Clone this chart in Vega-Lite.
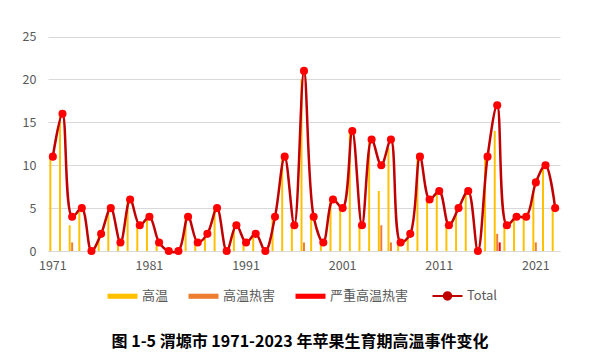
{
  "$schema": "https://vega.github.io/schema/vega-lite/v6.json",
  "autosize": "none",
  "width": 512,
  "height": 223,
  "padding": {"left": 48, "top": 28, "right": 40, "bottom": 105},
  "background": "white",
  "config": {
    "view": {"stroke": null},
    "font": "Noto Sans CJK SC",
    "axis": {"labelFont": "Noto Sans CJK SC", "labelColor": "#595959", "labelFontSize": 12.5, "title": null}
  },
  "title": {
    "text": "图 1-5 渭塬市 1971-2023 年苹果生育期高温事件变化",
    "orient": "bottom",
    "anchor": "middle",
    "frame": "group",
    "offset": 30,
    "dx": -4,
    "font": "Noto Sans CJK SC",
    "fontSize": 16,
    "fontWeight": "bold",
    "color": "#000000"
  },
  "data": {
    "values": [
      {"year": 1971, "高温": 11, "高温热害": 0, "严重高温热害": 0, "Total": 11},
      {"year": 1972, "高温": 16, "高温热害": 0, "严重高温热害": 0, "Total": 16},
      {"year": 1973, "高温": 3, "高温热害": 1, "严重高温热害": 0, "Total": 4},
      {"year": 1974, "高温": 5, "高温热害": 0, "严重高温热害": 0, "Total": 5},
      {"year": 1975, "高温": 0, "高温热害": 0, "严重高温热害": 0, "Total": 0},
      {"year": 1976, "高温": 2, "高温热害": 0, "严重高温热害": 0, "Total": 2},
      {"year": 1977, "高温": 5, "高温热害": 0, "严重高温热害": 0, "Total": 5},
      {"year": 1978, "高温": 1, "高温热害": 0, "严重高温热害": 0, "Total": 1},
      {"year": 1979, "高温": 6, "高温热害": 0, "严重高温热害": 0, "Total": 6},
      {"year": 1980, "高温": 3, "高温热害": 0, "严重高温热害": 0, "Total": 3},
      {"year": 1981, "高温": 4, "高温热害": 0, "严重高温热害": 0, "Total": 4},
      {"year": 1982, "高温": 1, "高温热害": 0, "严重高温热害": 0, "Total": 1},
      {"year": 1983, "高温": 0, "高温热害": 0, "严重高温热害": 0, "Total": 0},
      {"year": 1984, "高温": 0, "高温热害": 0, "严重高温热害": 0, "Total": 0},
      {"year": 1985, "高温": 4, "高温热害": 0, "严重高温热害": 0, "Total": 4},
      {"year": 1986, "高温": 1, "高温热害": 0, "严重高温热害": 0, "Total": 1},
      {"year": 1987, "高温": 2, "高温热害": 0, "严重高温热害": 0, "Total": 2},
      {"year": 1988, "高温": 5, "高温热害": 0, "严重高温热害": 0, "Total": 5},
      {"year": 1989, "高温": 0, "高温热害": 0, "严重高温热害": 0, "Total": 0},
      {"year": 1990, "高温": 3, "高温热害": 0, "严重高温热害": 0, "Total": 3},
      {"year": 1991, "高温": 1, "高温热害": 0, "严重高温热害": 0, "Total": 1},
      {"year": 1992, "高温": 2, "高温热害": 0, "严重高温热害": 0, "Total": 2},
      {"year": 1993, "高温": 0, "高温热害": 0, "严重高温热害": 0, "Total": 0},
      {"year": 1994, "高温": 4, "高温热害": 0, "严重高温热害": 0, "Total": 4},
      {"year": 1995, "高温": 11, "高温热害": 0, "严重高温热害": 0, "Total": 11},
      {"year": 1996, "高温": 3, "高温热害": 0, "严重高温热害": 0, "Total": 3},
      {"year": 1997, "高温": 20, "高温热害": 1, "严重高温热害": 0, "Total": 21},
      {"year": 1998, "高温": 4, "高温热害": 0, "严重高温热害": 0, "Total": 4},
      {"year": 1999, "高温": 1, "高温热害": 0, "严重高温热害": 0, "Total": 1},
      {"year": 2000, "高温": 6, "高温热害": 0, "严重高温热害": 0, "Total": 6},
      {"year": 2001, "高温": 5, "高温热害": 0, "严重高温热害": 0, "Total": 5},
      {"year": 2002, "高温": 14, "高温热害": 0, "严重高温热害": 0, "Total": 14},
      {"year": 2003, "高温": 3, "高温热害": 0, "严重高温热害": 0, "Total": 3},
      {"year": 2004, "高温": 13, "高温热害": 0, "严重高温热害": 0, "Total": 13},
      {"year": 2005, "高温": 7, "高温热害": 3, "严重高温热害": 0, "Total": 10},
      {"year": 2006, "高温": 12, "高温热害": 1, "严重高温热害": 0, "Total": 13},
      {"year": 2007, "高温": 1, "高温热害": 0, "严重高温热害": 0, "Total": 1},
      {"year": 2008, "高温": 2, "高温热害": 0, "严重高温热害": 0, "Total": 2},
      {"year": 2009, "高温": 11, "高温热害": 0, "严重高温热害": 0, "Total": 11},
      {"year": 2010, "高温": 6, "高温热害": 0, "严重高温热害": 0, "Total": 6},
      {"year": 2011, "高温": 7, "高温热害": 0, "严重高温热害": 0, "Total": 7},
      {"year": 2012, "高温": 3, "高温热害": 0, "严重高温热害": 0, "Total": 3},
      {"year": 2013, "高温": 5, "高温热害": 0, "严重高温热害": 0, "Total": 5},
      {"year": 2014, "高温": 7, "高温热害": 0, "严重高温热害": 0, "Total": 7},
      {"year": 2015, "高温": 0, "高温热害": 0, "严重高温热害": 0, "Total": 0},
      {"year": 2016, "高温": 11, "高温热害": 0, "严重高温热害": 0, "Total": 11},
      {"year": 2017, "高温": 14, "高温热害": 2, "严重高温热害": 1, "Total": 17},
      {"year": 2018, "高温": 3, "高温热害": 0, "严重高温热害": 0, "Total": 3},
      {"year": 2019, "高温": 4, "高温热害": 0, "严重高温热害": 0, "Total": 4},
      {"year": 2020, "高温": 4, "高温热害": 0, "严重高温热害": 0, "Total": 4},
      {"year": 2021, "高温": 7, "高温热害": 1, "严重高温热害": 0, "Total": 8},
      {"year": 2022, "高温": 10, "高温热害": 0, "严重高温热害": 0, "Total": 10},
      {"year": 2023, "高温": 5, "高温热害": 0, "严重高温热害": 0, "Total": 5}
    ]
  },
  "encoding": {
    "x": {
      "field": "year",
      "type": "ordinal",
      "scale": {"paddingInner": 0.28, "paddingOuter": 0.14},
      "axis": {
        "values": [1971, 1981, 1991, 2001, 2011, 2021],
        "labelAngle": 0,
        "ticks": false,
        "domainColor": "#D9D9D9",
        "labelPadding": 8,
        "grid": false
      }
    }
  },
  "layer": [
    {
      "transform": [{"fold": ["高温", "高温热害", "严重高温热害"], "as": ["series", "value"]}],
      "mark": {"type": "bar"},
      "encoding": {
        "y": {
          "field": "value",
          "type": "quantitative",
          "scale": {"domain": [0, 25]},
          "axis": {
            "values": [0, 5, 10, 15, 20, 25],
            "grid": true,
            "gridColor": "#D9D9D9",
            "domain": false,
            "ticks": false,
            "labelPadding": 12
          }
        },
        "xOffset": {
          "field": "series",
          "type": "nominal",
          "sort": ["高温", "高温热害", "严重高温热害"],
          "scale": {"paddingInner": 0.2}
        },
        "color": {
          "field": "series",
          "type": "nominal",
          "scale": {
            "domain": ["高温", "高温热害", "严重高温热害", "Total"],
            "range": ["#FFC000", "#ED7D31", "#FF0000", "#C00000"]
          },
          "legend": {
            "orient": "none",
            "direction": "horizontal",
            "legendX": 68,
            "legendY": 261,
            "title": null,
            "symbolType": "M-1,-0.17H1V0.17H-1Z",
            "symbolSize": 900,
            "labelFont": "Noto Sans CJK SC",
            "labelFontSize": 13,
            "labelColor": "#595959",
            "labelOffset": 13,
            "columnPadding": 19,
            "encode": {
              "symbols": {
                "update": {
                  "shape": {"signal": "datum.value === 'Total' ? 'M-1,0H1M-0.25,0A0.25,0.25 0 1,0 0.25,0A0.25,0.25 0 1,0 -0.25,0Z' : 'M-1,-0.17H1V0.17H-1Z'"},
                  "fill": {"signal": "datum.value === 'Total' ? '#FF0000' : scale('color', datum.value)"},
                  "stroke": {"signal": "datum.value === 'Total' ? '#C00000' : scale('color', datum.value)"},
                  "strokeWidth": {"signal": "datum.value === 'Total' ? 2 : 0"},
                  "opacity": {"value": 1},
                  "fillOpacity": {"value": 1}
                }
              }
            }
          }
        }
      }
    },
    {
      "mark": {"type": "line", "interpolate": "catmull-rom", "strokeWidth": 2.5},
      "encoding": {
        "y": {"field": "Total", "type": "quantitative"},
        "color": {"datum": "Total"}
      }
    },
    {
      "mark": {"type": "point", "filled": true, "fill": "#FF0000", "opacity": 1, "size": 65},
      "encoding": {
        "y": {"field": "Total", "type": "quantitative"}
      }
    }
  ]
}
